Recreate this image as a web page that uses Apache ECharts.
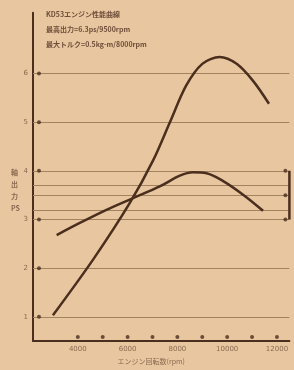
<!DOCTYPE html>
<html><head><meta charset="utf-8">
<script src="https://cdn.jsdelivr.net/npm/echarts@6/dist/echarts.min.js"></script>
<style>html,body{margin:0;padding:0;background:#e8c6a0;}#c{width:294px;height:370px;}</style>
</head><body><div id="c"></div>
<script>
// Data
const rpmPower = [3000, 4620, 6090, 7030, 7700, 8350, 9000, 9700, 10380, 11040, 11680];
const power = [1.03, 2.18, 3.34, 4.22, 5.0, 5.75, 6.2, 6.34, 6.2, 5.85, 5.38];
const rpmTorque = [3150, 4080, 5150, 6220, 7290, 8100, 8630, 9170, 9840, 10640, 11440];
const torque = [0.368, 0.393, 0.42, 0.444, 0.468, 0.49, 0.497, 0.495, 0.479, 0.451, 0.418];
const xTickDots = [4000, 5000, 6000, 7000, 8000, 9000, 10000, 11000, 12000];
const xLabels = [4000, 6000, 8000, 10000, 12000];
const yLabels = [1, 2, 3, 4, 5, 6];
const gridPower = [1, 2, 3, 4, 5, 6];
const gridTorque = [0.425, 0.45, 0.475];
const torqueTicks = [0.4, 0.45, 0.5];
const titleLines = ['KD53エンジン性能曲線', '最高出力=6.3ps/9500rpm', '最大トルク=0.5kg-m/8000rpm'];

const X_MIN = 2200, X_MAX = 12500, Y_MIN = 0.5, Y_MAX = 7.25;
const T_MIN = 0.15, T_MAX = 0.825;
const ink = '#4a2e1e', grid = '#a3825f', txt = '#8a6a50';

const chart = echarts.init(document.getElementById('c'));
chart.setOption({
  backgroundColor: '#e8c6a0',
  animation: false,
  grid: {left: 33, right: 4.6, top: 12.75, bottom: 26.5},
  xAxis: {
    type: 'value', min: X_MIN, max: X_MAX,
    axisLine: {show: true, lineStyle: {color: ink, width: 2}},
    axisTick: {show: false},
    splitLine: {show: false},
    axisLabel: {customValues: xLabels, formatter: v => String(v), color: txt, fontSize: 7, margin: 5, fontFamily: 'DejaVu Sans'},
    name: 'エンジン回転数(rpm)', nameLocation: 'middle', nameGap: 15,
    nameTextStyle: {color: txt, fontSize: 7, fontFamily: 'Noto Sans CJK JP', padding: [0, 0, 0, -20]}
  },
  yAxis: [{
    type: 'value', min: Y_MIN, max: Y_MAX,
    axisLine: {show: true, lineStyle: {color: ink, width: 2}},
    axisTick: {show: false},
    splitLine: {show: false},
    axisLabel: {customValues: yLabels, color: txt, fontSize: 7, margin: 5, fontFamily: 'DejaVu Sans'}
  }, {
    type: 'value', min: T_MIN, max: T_MAX, position: 'right',
    axisLine: {show: false}, axisTick: {show: false}, axisLabel: {show: false}, splitLine: {show: false}
  }],
  graphic: [
    {type: 'text', left: 46, top: 11, style: {text: titleLines[0], fill: '#6e4e3a', font: 'bold 7px "Noto Sans CJK JP"'}},
    {type: 'text', left: 46, top: 26, style: {text: titleLines[1], fill: '#6e4e3a', font: 'bold 7px "Noto Sans CJK JP"'}},
    {type: 'text', left: 46, top: 41, style: {text: titleLines[2], fill: '#6e4e3a', font: 'bold 7px "Noto Sans CJK JP"'}},
    {type: 'text', left: 11, top: 166, style: {text: '軸\n出\n力\nPS', fill: txt, font: 'bold 7px "Noto Sans CJK JP"', lineHeight: 12, align: 'left'}}
  ],
  series: [
    {
      type: 'line', data: rpmPower.map((r, i) => [r, power[i]]), smooth: 0.3, symbol: 'none',
      lineStyle: {color: ink, width: 2.5}, z: 5,
      markLine: {silent: true, symbol: 'none', label: {show: false},
        lineStyle: {color: grid, width: 1, type: 'solid'},
        data: gridPower.map(v => ({yAxis: v}))}
    },
    {
      type: 'line', yAxisIndex: 1, data: rpmTorque.map((r, i) => [r, torque[i]]), smooth: 0.35, symbol: 'none',
      lineStyle: {color: ink, width: 2.5}, z: 5,
      markLine: {silent: true, symbol: 'none', label: {show: false},
        lineStyle: {color: grid, width: 1, type: 'solid'},
        data: gridTorque.map(v => ({yAxis: v}))}
    },
    {
      type: 'scatter', data: yLabels.map(v => [X_MIN, v]), symbolSize: 4, symbolOffset: [6, 0],
      itemStyle: {color: ink}, z: 6
    },
    {
      type: 'scatter', data: xTickDots.map(v => [v, Y_MIN]), symbolSize: 4, symbolOffset: [0, -4],
      itemStyle: {color: ink}, z: 6
    },
    {
      type: 'scatter', yAxisIndex: 1, data: torqueTicks.map(v => [X_MAX, v]), symbolSize: 4, symbolOffset: [-4, 0],
      itemStyle: {color: ink}, z: 6
    },
    {
      type: 'line', yAxisIndex: 1, data: [[X_MAX, torqueTicks[0]], [X_MAX, torqueTicks[torqueTicks.length - 1]]],
      symbol: 'none', lineStyle: {color: ink, width: 2.5}, z: 6
    }
  ]
});
</script></body></html>
